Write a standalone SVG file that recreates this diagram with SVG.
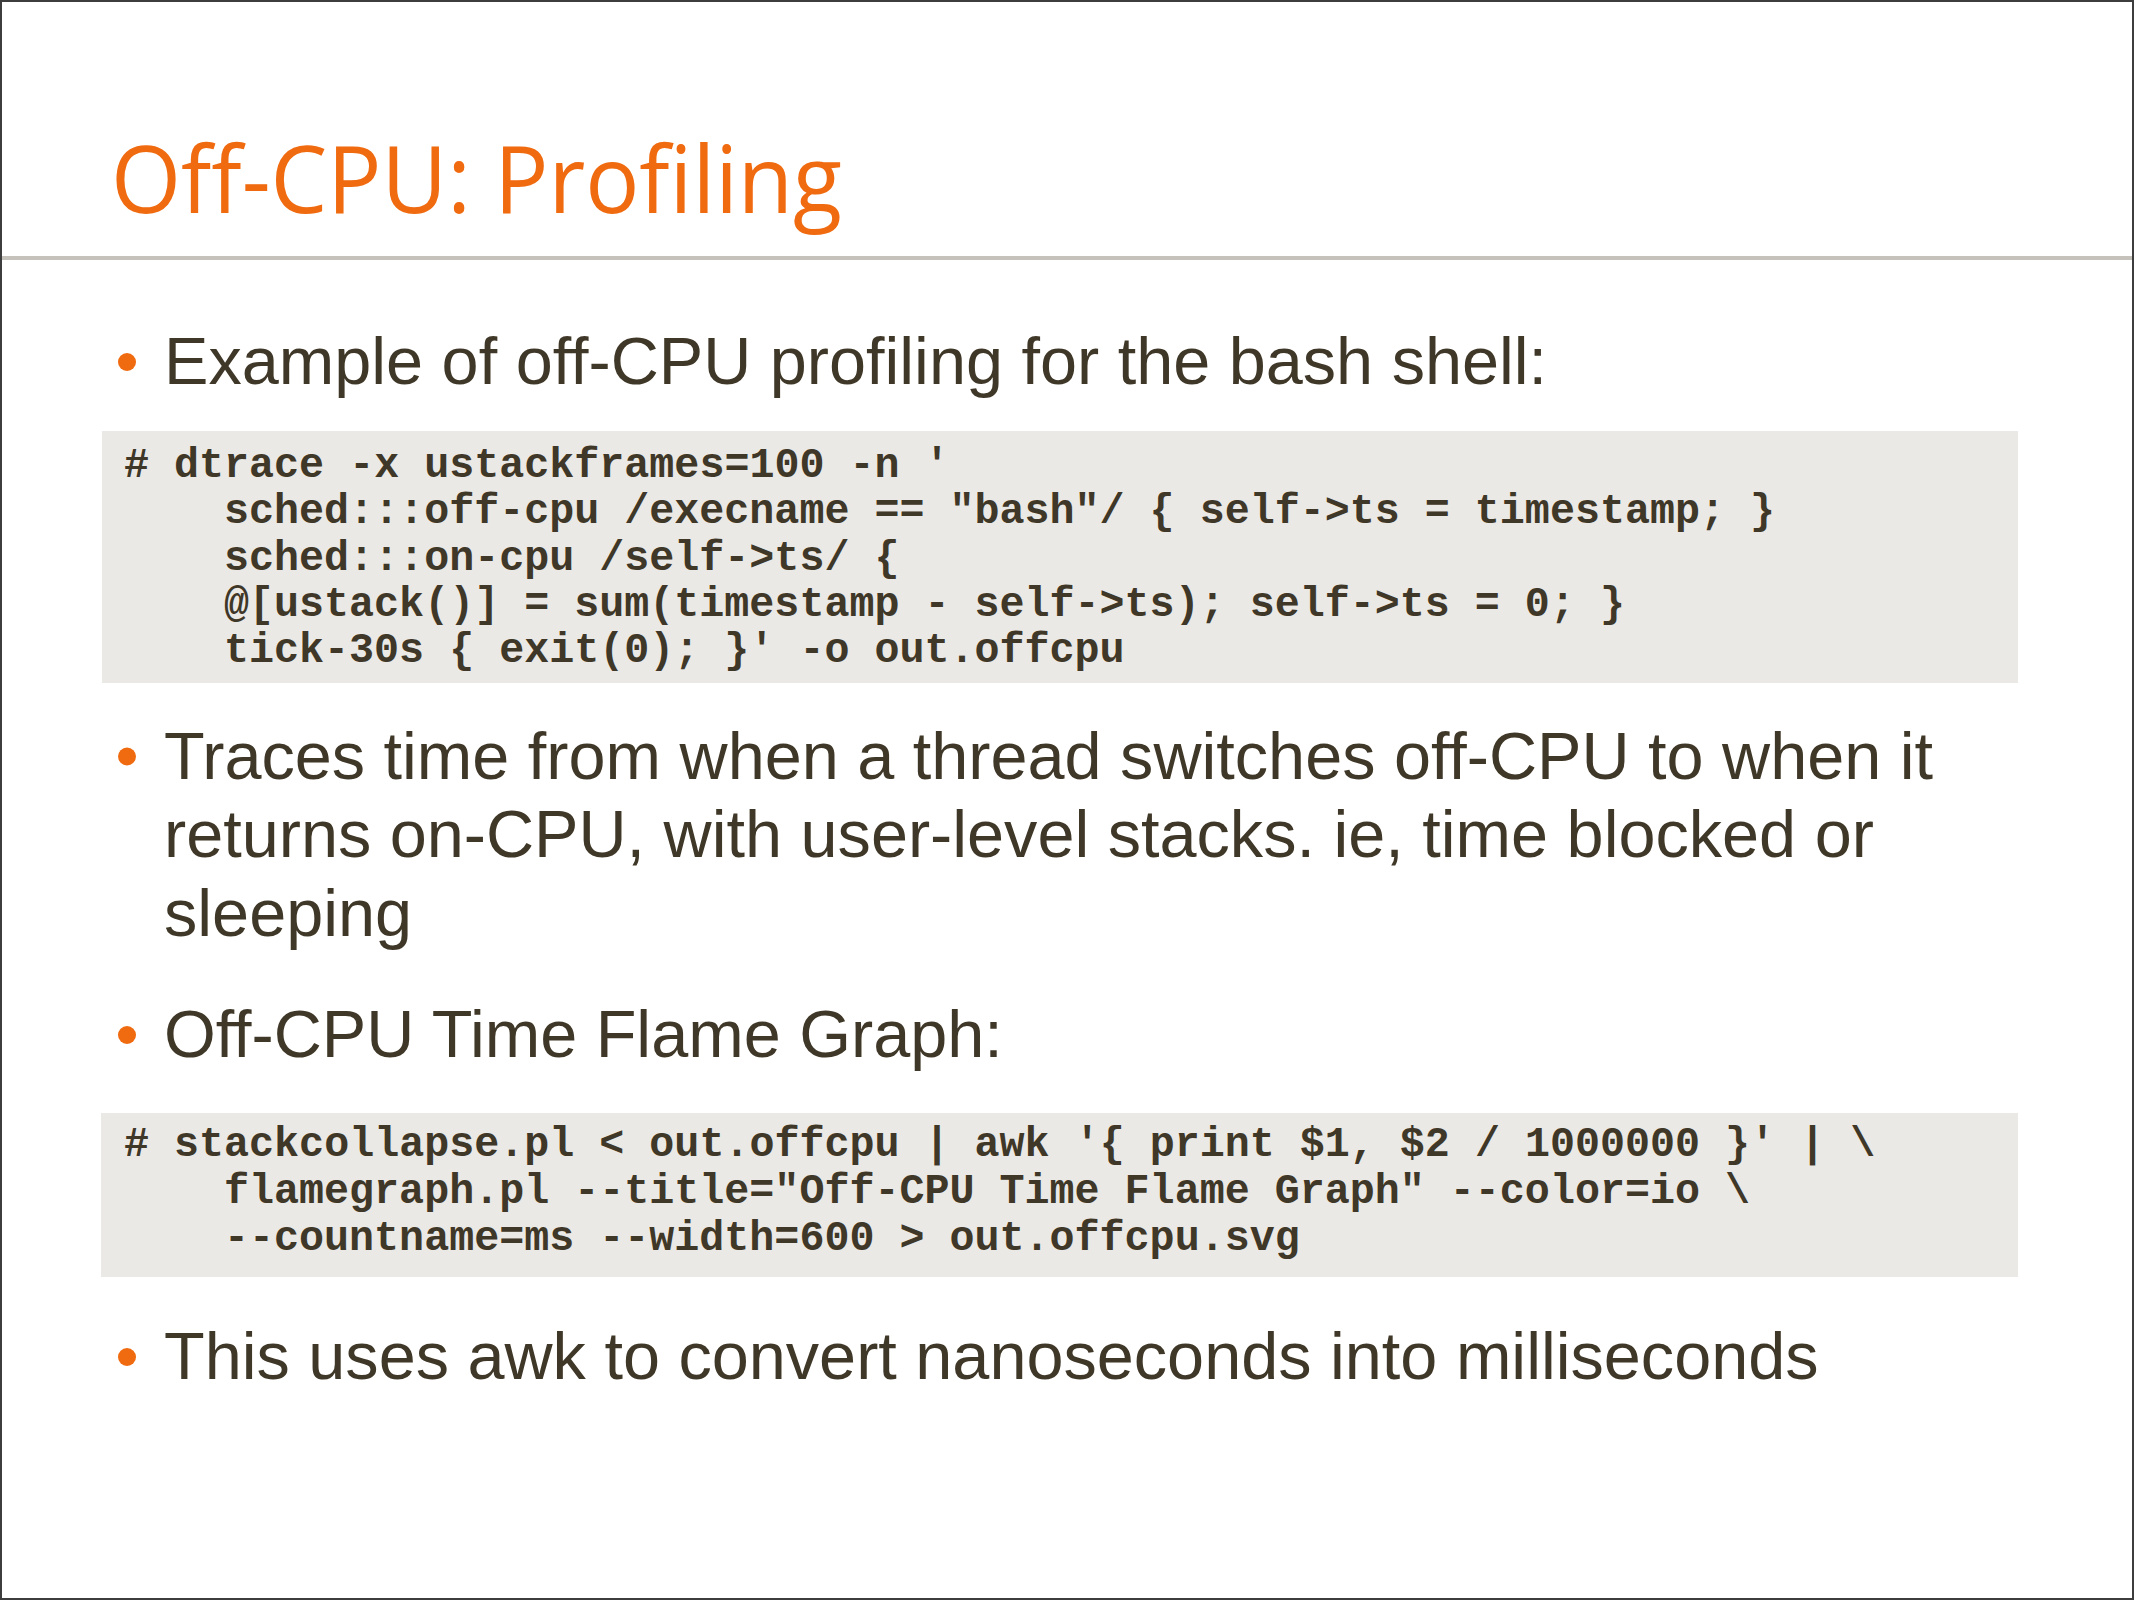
<svg xmlns="http://www.w3.org/2000/svg" width="2134" height="1600" viewBox="0 0 2134 1600">
  <style>
    .title { font-family: "Open Sans", "Noto Sans", sans-serif; font-size: 93px; font-weight: 500; fill: #f06a0f; }
    .body { font-family: "Liberation Sans", Arial, sans-serif; font-size: 66.6px; fill: #3f3727; }
    .code { font-family: "Liberation Mono", "Courier New", monospace; font-weight: bold; font-size: 41.7px; fill: #3f3727; white-space: pre; }
    .bullet { fill: #f06a0f; }
    .codebg { fill: #ebe9e6; }
  </style>
  <rect x="0" y="0" width="2134" height="1600" fill="#ffffff"/>

  <g id="title">
    <text class="title" x="111" y="213" textLength="731" lengthAdjust="spacingAndGlyphs">Off-CPU: Profiling</text>
    <rect x="0" y="256" width="2134" height="4" fill="#c5c2bb"/>
  </g>

  <g id="bullet-1">
    <circle class="bullet" cx="127" cy="362" r="9"/>
    <text class="body" x="164" y="383.5">Example of off-CPU profiling for the bash shell:</text>
  </g>

  <g id="code-1">
    <rect class="codebg" x="102" y="431" width="1916" height="252"/>
    <text class="code" x="124" y="477">#&#160;dtrace&#160;-x&#160;ustackframes=100&#160;-n&#160;'</text>
    <text class="code" x="224" y="523.3">sched:::off-cpu&#160;/execname&#160;==&#160;"bash"/&#160;{&#160;self-&gt;ts&#160;=&#160;timestamp;&#160;}</text>
    <text class="code" x="224" y="569.6">sched:::on-cpu&#160;/self-&gt;ts/&#160;{</text>
    <text class="code" x="224" y="615.9">@[ustack()]&#160;=&#160;sum(timestamp&#160;-&#160;self-&gt;ts);&#160;self-&gt;ts&#160;=&#160;0;&#160;}</text>
    <text class="code" x="224" y="662.2">tick-30s&#160;{&#160;exit(0);&#160;}'&#160;-o&#160;out.offcpu</text>
  </g>

  <g id="bullet-2">
    <circle class="bullet" cx="127" cy="756.5" r="9"/>
    <text class="body" x="164" y="778.5">Traces time from when a thread switches off-CPU to when it</text>
    <text class="body" x="164" y="857">returns on-CPU, with user-level stacks. ie, time blocked or</text>
    <text class="body" x="164" y="935.5">sleeping</text>
  </g>

  <g id="bullet-3">
    <circle class="bullet" cx="127" cy="1035" r="9"/>
    <text class="body" x="164" y="1057">Off-CPU Time Flame Graph:</text>
  </g>

  <g id="code-2">
    <rect class="codebg" x="101" y="1113" width="1917" height="164"/>
    <text class="code" x="124" y="1156">#&#160;stackcollapse.pl&#160;&lt;&#160;out.offcpu&#160;|&#160;awk&#160;'{&#160;print&#160;$1,&#160;$2&#160;/&#160;1000000&#160;}'&#160;|&#160;\</text>
    <text class="code" x="224" y="1203">flamegraph.pl&#160;--title="Off-CPU&#160;Time&#160;Flame&#160;Graph"&#160;--color=io&#160;\</text>
    <text class="code" x="224" y="1250">--countname=ms&#160;--width=600&#160;&gt;&#160;out.offcpu.svg</text>
  </g>

  <g id="bullet-4">
    <circle class="bullet" cx="127" cy="1357" r="9"/>
    <text class="body" x="164" y="1379">This uses awk to convert nanoseconds into milliseconds</text>
  </g>

  <g id="connectors"></g>

  <rect x="0" y="0" width="2134" height="1600" fill="none" stroke="#3d3d3d" stroke-width="4"/>
</svg>
